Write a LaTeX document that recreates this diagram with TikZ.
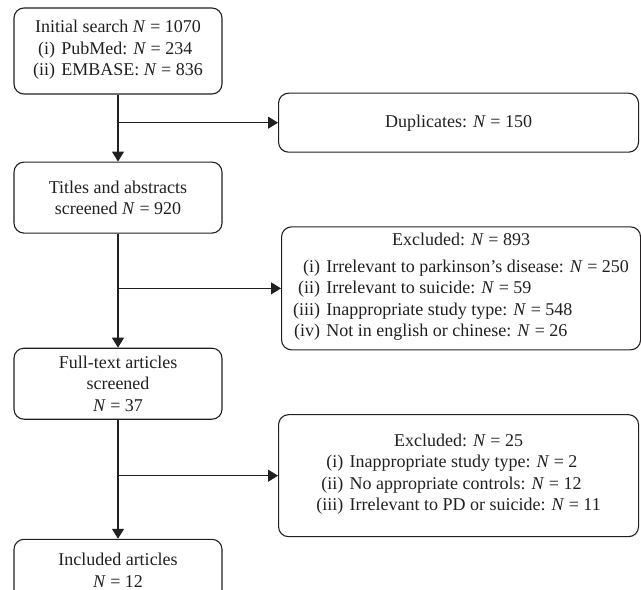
\documentclass[tikz,border=0pt]{standalone}
\usepackage{fontspec}
\setmainfont{Liberation Serif}
\usetikzlibrary{positioning,arrows.meta,calc}
\definecolor{ink}{HTML}{231F20}
\newcommand{\nn}{\textit{N}}
\newcommand{\itemtab}[1]{\begin{tabular}[t]{@{}r@{\hspace{0.35em}}l@{}}#1\end{tabular}}
\tikzset{
  box/.style={rectangle,draw=ink,text=ink,rounded corners=10pt,align=center,
    inner sep=3pt,font={\fontsize{18}{21.5}\selectfont},line width=1.1pt,
    minimum width=208pt,minimum height=71pt},
  side/.style={box,minimum width=360pt},
  fl/.style={-{Triangle[length=10pt,width=12pt]},draw=ink,line width=1.1pt},
}

\begin{document}
\begin{tikzpicture}
  \useasboundingbox (0,0) rectangle (641pt,-590pt);
  \node[box,minimum height=86pt] (init) at (118pt,-51pt)
    {Initial search \nn{} = 1070\\
     \itemtab{(i) & PubMed: \nn{} = 234\\ (ii) & EMBASE: \nn{} = 836}};
  \node[box,below=67pt of init] (titles) {Titles and abstracts\\screened \nn{} = 920};
  \node[box,below=114pt of titles] (full) {Full-text articles\\screened\\\nn{} = 37};
  \node[box,below=119pt of full,minimum height=62pt] (incl) {Included articles\\\nn{} = 12};
  % branch points on the main line
  \coordinate (b1) at ($(init.south)!0.42!(titles.north)$);
  \coordinate (b2) at ($(titles.south)!0.48!(full.north)$);
  \coordinate (b3) at ($(full.south)!0.47!(incl.north)$);
  \node[side,right=160pt of b1,minimum height=59pt] (dup) {Duplicates: \nn{} = 150};
  \node[side,right=163pt of b2,minimum width=359pt,minimum height=123pt] (exc1)
    {Excluded: \nn{} = 893\\[5pt]
     \itemtab{(i) & Irrelevant to parkinson’s disease: \nn{} = 250\\
       (ii) & Irrelevant to suicide: \nn{} = 59\\
       (iii) & Inappropriate study type: \nn{} = 548\\
       (iv) & Not in english or chinese: \nn{} = 26}};
  \node[side,right=160pt of b3,minimum height=122pt] (exc2)
    {Excluded: \nn{} = 25\\
     \itemtab{(i) & Inappropriate study type: \nn{} = 2\\
       (ii) & No appropriate controls: \nn{} = 12\\
       (iii) & Irrelevant to PD or suicide: \nn{} = 11}};
  \draw[fl] (init)--(titles); \draw[fl] (titles)--(full); \draw[fl] (full)--(incl);
  \draw[fl] (b1)--(dup); \draw[fl] (b2)--(exc1); \draw[fl] (b3)--(exc2);
\end{tikzpicture}
\end{document}
